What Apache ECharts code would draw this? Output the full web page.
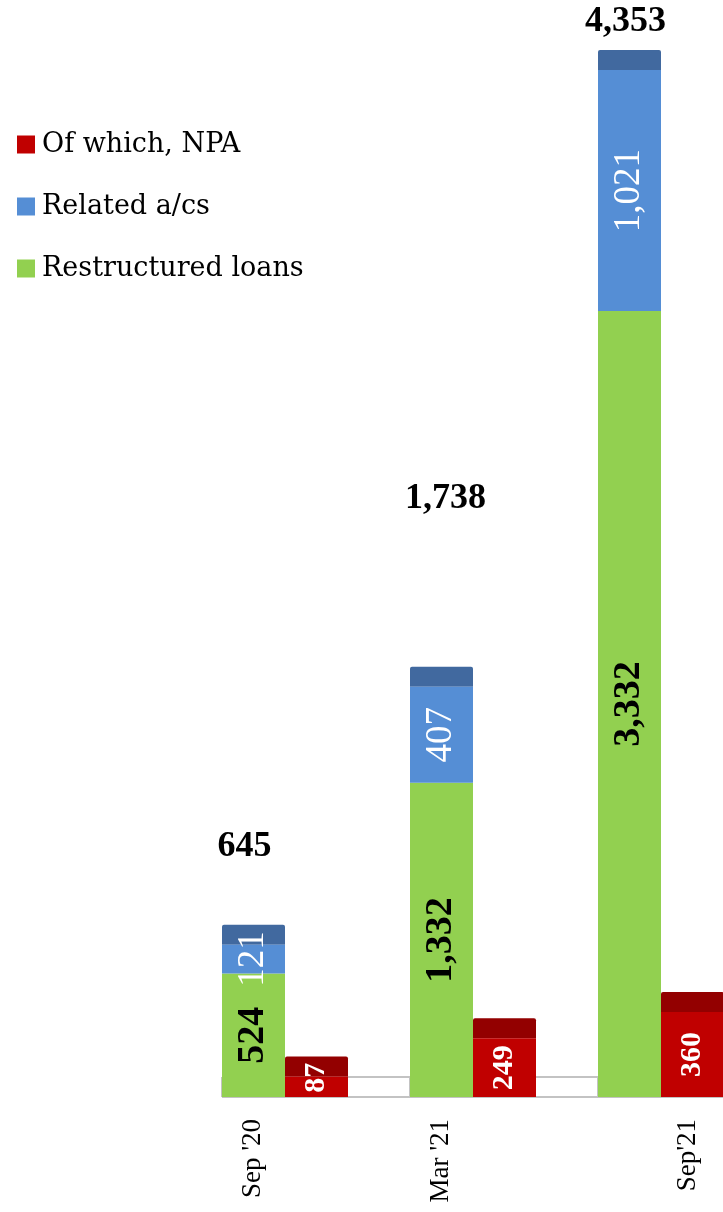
<!DOCTYPE html>
<html>
<head>
<meta charset="utf-8">
<script src="https://cdn.jsdelivr.net/npm/echarts@6/dist/echarts.min.js"></script>
<style>
  html, body { margin: 0; padding: 0; background: #fff; }
  #chart { width: 723px; height: 1212px; }
</style>
</head>
<body>
<div id="chart"></div>
<script>
// data
var categories = ["Sep '20", "Mar '21", "Sep'21"];
var restructured = [524, 1332, 3332];
var related = [121, 407, 1021];
var npa = [87, 249, 360];
var totals = [645, 1738, 4353];

// look
var BAR_W = 63;
var CAP_H = 20;
var totalShift = [[-9, 78], [4, 168], [-4, 28]]; // px, total labels were hand placed
var npaLabelLift = [9, 0, 0];
var numFont = '"Liberation Serif", "Times New Roman", serif';
var textFont = '"DejaVu Serif", serif';

function fmt(v) { return Number(v).toLocaleString('en-US'); }

function renderFloor(params, api) {
  var cs = params.coordSys;
  var p0 = api.coord([0, 0]);
  var yFront = p0[1];
  var yBack = yFront - CAP_H;
  var left = p0[0] - BAR_W;
  var right = cs.x + cs.width;
  var ls = { stroke: '#c3c3c3', lineWidth: 2 };
  var kids = [
    { type: 'line', shape: { x1: left, y1: yBack, x2: right, y2: yBack }, style: ls },
    { type: 'line', shape: { x1: left, y1: yFront, x2: right, y2: yFront }, style: ls }
  ];
  categories.forEach(function (c, k) {
    var x = api.coord([k, 0])[0] - BAR_W;
    kids.push({ type: 'line', shape: { x1: x, y1: yBack, x2: x, y2: yFront }, style: ls });
  });
  return { type: 'group', children: kids };
}

function renderCaps(params, api) {
  var i = api.value(0);
  var base = api.coord([i, 0]);
  var stackTop = api.coord([i, api.value(1)])[1];
  var npaTop = api.coord([i, api.value(2)])[1];
  return {
    type: 'group',
    children: [
      { type: 'rect', shape: { x: base[0] - BAR_W, y: stackTop - CAP_H, width: BAR_W, height: CAP_H, r: [2, 2, 0, 0] },
        style: { fill: '#41699f' } },
      { type: 'rect', shape: { x: base[0], y: npaTop - CAP_H, width: BAR_W, height: CAP_H, r: [2, 2, 0, 0] },
        style: { fill: '#930000' } },
      { type: 'text', x: base[0] - BAR_W / 2 + totalShift[i][0], y: stackTop - CAP_H - totalShift[i][1],
        style: { text: fmt(api.value(3)), fill: '#000', font: 'bold 36px ' + numFont,
                 align: 'center', verticalAlign: 'middle' } }
    ]
  };
}

var chart = echarts.init(document.getElementById('chart'));
var option = {
  animation: false,
  backgroundColor: '#fff',
  legend: {
    orient: 'vertical',
    left: 17,
    top: 131,
    padding: 0,
    itemWidth: 18,
    itemHeight: 18,
    itemGap: 35,
    icon: 'rect',
    data: ['Of which, NPA', 'Related a/cs', 'Restructured loans'],
    textStyle: { fontFamily: textFont, fontSize: 27, color: '#000', padding: [0, 0, 0, 2] }
  },
  grid: { left: 191, width: 564, top: 0, bottom: 115, containLabel: false, outerBoundsMode: 'none' },
  xAxis: {
    type: 'category',
    data: categories,
    axisLine: { show: false },
    axisTick: { show: false },
    axisLabel: {
      rotate: 90,
      margin: 22,
      interval: 0,
      formatter: function (v, i) { return '{c' + i + '|' + v + '}'; },
      rich: {
        c0: { fontFamily: numFont, fontSize: 27, color: '#000', padding: [0, 0, 64, 0] },
        c1: { fontFamily: numFont, fontSize: 27, color: '#000', padding: [0, 0, 64, 0] },
        c2: { fontFamily: numFont, fontSize: 27, color: '#000', padding: [54, 0, 0, 0] }
      }
    }
  },
  yAxis: { type: 'value', min: 0, max: 4650, show: false, splitLine: { show: false } },
  series: [
    {
      type: 'custom', z: 0, silent: true,
      renderItem: renderFloor,
      data: [[0, 0]]
    },
    {
      name: 'Restructured loans', type: 'bar', stack: 'loans', z: 2,
      barWidth: BAR_W, barGap: '0%',
      itemStyle: { color: '#92d050' },
      label: { show: true, position: 'inside', rotate: 90, color: '#000',
               fontFamily: numFont, fontWeight: 'bold', fontSize: 38, formatter: function (p) { return fmt(p.value); } },
      data: restructured
    },
    {
      name: 'Related a/cs', type: 'bar', stack: 'loans', z: 2,
      barWidth: BAR_W, barGap: '0%',
      itemStyle: { color: '#558ed5' },
      label: { show: true, position: 'inside', rotate: 90, color: '#fff',
               fontFamily: numFont, fontSize: 37, formatter: function (p) { return fmt(p.value); } },
      data: related
    },
    {
      name: 'Of which, NPA', type: 'bar', z: 2,
      barWidth: BAR_W, barGap: '0%',
      itemStyle: { color: '#c00000' },
      label: { show: true, position: 'inside', rotate: 90, color: '#fff',
               fontFamily: numFont, fontWeight: 'bold', fontSize: 30, formatter: function (p) { return fmt(p.value); } },
      data: npa.map(function (v, i) {
        // label frame is rotated, so +x here means up on screen
        return { value: v, label: { offset: [npaLabelLift[i], 0] } };
      })
    },
    {
      type: 'custom', z: 1, silent: true,
      renderItem: renderCaps,
      data: categories.map(function (c, i) {
        return [i, restructured[i] + related[i], npa[i], totals[i]];
      })
    }
  ]
};
chart.setOption(option);
</script>
</body>
</html>
